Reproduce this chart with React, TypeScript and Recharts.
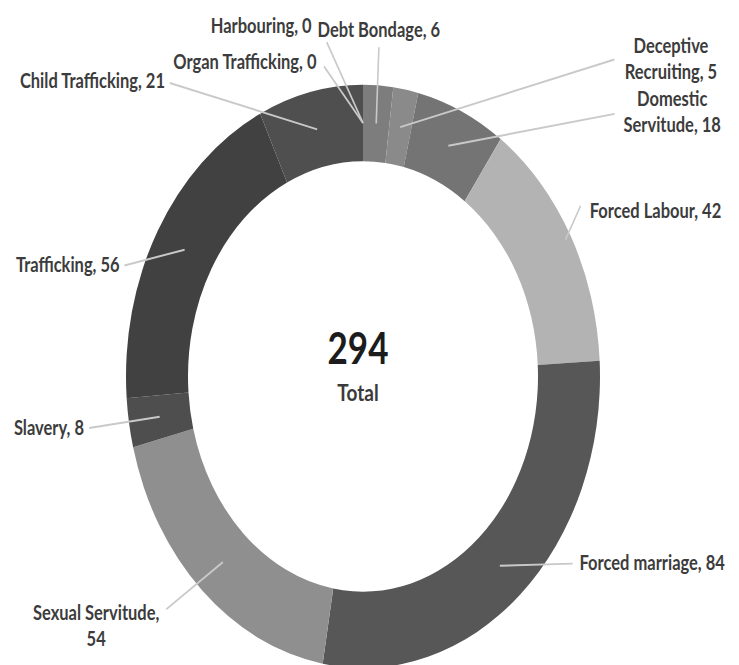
import React from 'react'
import { PieChart, Pie, Cell, Label } from 'recharts'

const categories = [
    'Debt Bondage',
    'Deceptive Recruiting',
    'Domestic Servitude',
    'Forced Labour',
    'Forced marriage',
    'Sexual Servitude',
    'Slavery',
    'Trafficking',
    'Child  Trafficking',
    'Organ Trafficking',
    'Harbouring'
]
const counts = [6, 5, 18, 42, 84, 54, 8, 56, 21, 0, 0]
const shades = [
    '#7d7d7d',
    '#8a8a8a',
    '#747474',
    '#b3b3b3',
    '#575757',
    '#8f8f8f',
    '#4e4e4e',
    '#414141',
    '#4f4f4f',
    '#555555',
    '#555555'
]

// where each data label sits: clock angle (deg, clockwise from 12) and distance from centre
const labelSpots = [
    { text: [3.2, 283], lead: [3.4, 268], anchor: 'middle', wrap: 0 },
    { text: [50, 402], lead: [44.3, 360], anchor: 'middle', wrap: 1 },
    { text: [55.1, 377], lead: [49.7, 330], anchor: 'middle', wrap: 1 },
    { text: [59.2, 264], lead: [57.5, 258], anchor: 'start', wrap: 0, tipOuter: true },
    { text: [124.9, 264], lead: [126, 259], anchor: 'start', wrap: 0 },
    { text: [232.8, 335], lead: [226.1, 273], anchor: 'middle', wrap: 2 },
    { text: [261.6, 282], lead: [261.3, 277], anchor: 'end', wrap: 0 },
    { text: [290.6, 260], lead: [290.7, 255], anchor: 'end', wrap: 0 },
    { text: [320.6, 312], lead: [321, 307], anchor: 'end', wrap: 0 },
    { text: [349.7, 260], lead: [351.2, 255], anchor: 'end', wrap: 0 },
    { text: [349.8, 290], lead: [352.4, 274], anchor: 'end', wrap: 0 }
]

const data = categories.map((name, i) => ({ name, value: counts[i] }))
const total = counts.reduce((a, b) => a + b, 0)

const FONT = 'Lato, "Open Sans", sans-serif'
const STRETCH = 1.23
const CX = 358
const CY = 301

const clock = (cx: number, cy: number, deg: number, r: number) => {
    const a = (deg * Math.PI) / 180
    return { x: cx + r * Math.sin(a), y: cy - r * Math.cos(a) }
}

function SliceLabel(props: any) {
    const { cx, cy, midAngle, innerRadius, outerRadius, index, name, value } = props
    const spot = labelSpots[index]
    if (!spot) return null
    const tipR = spot.tipOuter ? outerRadius - 6 : (innerRadius + outerRadius) / 2
    const rad = (-midAngle * Math.PI) / 180
    const tip = { x: cx + tipR * Math.cos(rad), y: cy + tipR * Math.sin(rad) }
    const lead = clock(cx, cy, spot.lead[0], spot.lead[1])
    const pos = clock(cx, cy, spot.text[0], spot.text[1])

    const words = `${name.replace(/\s+/g, ' ')}, ${value}`.split(' ')
    const lines = spot.wrap
        ? [words.slice(0, spot.wrap).join(' '), words.slice(spot.wrap).join(' ')]
        : [words.join(' ')]
    const lineGap = 21
    const top = pos.y - ((lines.length - 1) * lineGap) / 2

    return (
        <g>
            <line x1={tip.x} y1={tip.y} x2={lead.x} y2={lead.y} stroke="#c9c9c9" strokeWidth={1.6} />
            {lines.map((ln, k) => (
                <text
                    key={k}
                    x={pos.x}
                    y={top + k * lineGap}
                    textAnchor={spot.anchor}
                    dominantBaseline="central"
                    fontFamily={FONT}
                    fontWeight={700}
                    fontSize={16.5}
                    fill="#3c3c3c"
                >
                    {ln}
                </text>
            ))}
        </g>
    )
}

function CentreTotal() {
    return (
        <g>
            <text x={CX} y={CY - 19} textAnchor="middle" dominantBaseline="central"
                fontFamily={FONT} fontWeight={700} fontSize={35} fill="#1c1c1c">
                {total}
            </text>
            <text x={CX} y={CY + 18} textAnchor="middle" dominantBaseline="central"
                fontFamily={FONT} fontWeight={700} fontSize={19} fill="#3a3a3a">
                Total
            </text>
        </g>
    )
}

export default function App() {
    const h = Math.round(665 / STRETCH)
    return (
        <div
            style={{
                position: 'absolute',
                left: 0,
                top: 0,
                width: 739,
                height: h,
                transform: `scaleY(${STRETCH})`,
                transformOrigin: '0 0',
                background: '#fff'
            }}
        >
            <PieChart width={739} height={h}>
                <Pie
                    data={data}
                    dataKey="value"
                    nameKey="name"
                    cx={CX}
                    cy={CY}
                    innerRadius={175}
                    outerRadius={237}
                    startAngle={90}
                    endAngle={-270}
                    stroke="none"
                    labelLine={false}
                    label={SliceLabel}
                    isAnimationActive={false}
                >
                    {data.map((d, i) => (
                        <Cell key={d.name} fill={shades[i]} />
                    ))}
                    <Label position="center" content={CentreTotal} />
                </Pie>
            </PieChart>
        </div>
    )
}
